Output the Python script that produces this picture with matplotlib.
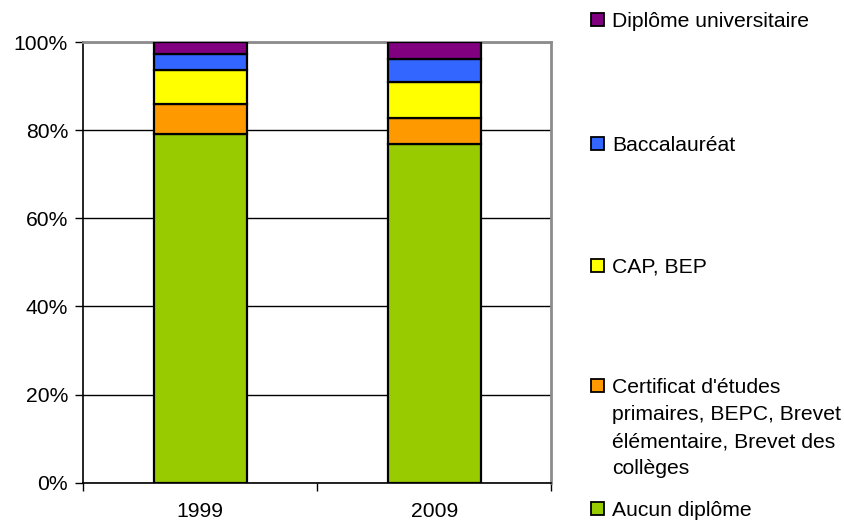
import matplotlib.pyplot as plt
from matplotlib.patches import Rectangle
import numpy as np

plt.rcParams['font.family'] = ['Liberation Sans', 'DejaVu Sans']

# niveaux de diplôme, du bas vers le haut de la pile
annees = ['1999', '2009']
categories = ['Aucun diplôme',
              "Certificat d'études\nprimaires, BEPC, Brevet\nélémentaire, Brevet des\ncollèges",
              'CAP, BEP',
              'Baccalauréat',
              'Diplôme universitaire']
aucun = [79.1, 76.8]
certificat = [6.8, 5.9]
cap_bep = [7.7, 8.2]
bac = [3.7, 5.3]
universitaire = [2.7, 3.8]
couleurs = ['#99CC00', '#FF9900', '#FFFF00', '#3366FF', '#800080']

series = [aucun, certificat, cap_bep, bac, universitaire]
taille = 15.2

W, H = 844, 525
fig = plt.figure(figsize=(W / 100, H / 100), dpi=100)
ax = fig.add_axes([83.3 / W, 1 - 482.7 / H, 468 / W, 440.7 / H])

x = np.arange(len(annees))
bas = np.zeros(len(annees))
for vals, c in zip(series, couleurs):
    ax.bar(x, vals, width=0.4, bottom=bas, color=c, edgecolor='black',
           linewidth=1.6, zorder=3)
    bas += np.array(vals)

ax.set_xlim(-0.5, 1.5)
ax.set_ylim(0, 100)
ax.set_yticks([0, 20, 40, 60, 80, 100])
ax.set_yticklabels(['0%', '20%', '40%', '60%', '80%', '100%'])
ax.yaxis.grid(True, color='black', linewidth=1, zorder=0)

# ticks majeurs aux limites des catégories, étiquettes au centre
ax.set_xticks([-0.5, 0.5, 1.5])
ax.set_xticklabels(['', '', ''])
ax.set_xticks(x, minor=True)
ax.set_xticklabels(annees, minor=True)
ax.tick_params(axis='x', which='minor', length=0, pad=14, labelsize=taille)
ax.tick_params(axis='x', which='major', length=6, width=1, direction='out')
ax.tick_params(axis='y', length=6, width=1, pad=5, labelsize=taille)

for s in ['left', 'bottom']:
    ax.spines[s].set_color('black')
    ax.spines[s].set_linewidth(1.2)
for s in ['top', 'right']:
    ax.spines[s].set_color('#8c8c8c')
    ax.spines[s].set_linewidth(2)

# légende à droite
legende_y = [508, 385, 265, 143, 19]
for lab, c, yc in zip(categories, couleurs, legende_y):
    fig.patches.append(Rectangle((591 / W, 1 - (yc + 6.5) / H), 13 / W, 13 / H,
                                 transform=fig.transFigure, facecolor=c,
                                 edgecolor='black', linewidth=1.3))
    for i, ligne in enumerate(lab.split('\n')):
        yb = yc + 7.6 + i * 27.3
        fig.text(612 / W, 1 - yb / H, ligne, fontsize=taille, va='baseline',
                 ha='left')

fig.savefig('out.png', dpi=100)
